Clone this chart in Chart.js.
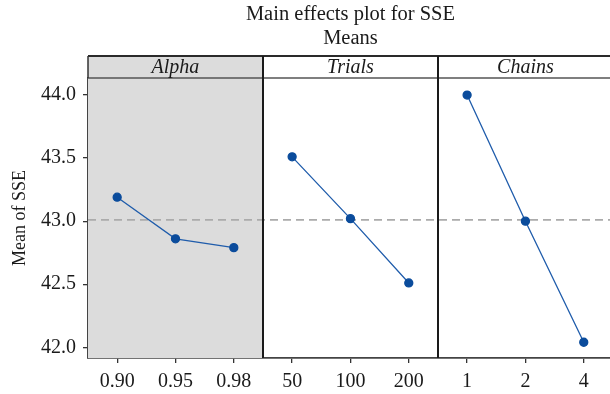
<!DOCTYPE html>
<html>
<head>
<meta charset="utf-8">
<script src="https://cdn.jsdelivr.net/npm/chart.js@4"></script>
<style>
html,body{margin:0;padding:0;overflow:hidden;background:#fff;}
</style>
</head>
<body>
<canvas id="c" width="610" height="394"></canvas>
<script>
const factors = ['Alpha', 'Trials', 'Chains'];
const alphaLevels = ['0.90', '0.95', '0.98'];
const alphaMeans = [43.19, 42.86, 42.79];
const trialsLevels = ['50', '100', '200'];
const trialsMeans = [43.51, 43.02, 42.51];
const chainsLevels = ['1', '2', '4'];
const chainsMeans = [44.00, 43.00, 42.04];
const grandMean = 43.01;
const yTicks = [42.0, 42.5, 43.0, 43.5, 44.0];
const titleLines = ['Main effects plot for SSE', 'Means'];
const yTitle = 'Mean of SSE';

const levelSets = [alphaLevels, trialsLevels, chainsLevels];
const meanSets = [alphaMeans, trialsMeans, chainsMeans];
const xLabels = levelSets.flat();
const xPositions = xLabels.map((_, i) => i + 0.5);

const datasets = meanSets.map((means, p) => ({
  label: factors[p],
  data: means.map((v, i) => ({x: p * 3 + i + 0.5, y: v})),
  borderColor: '#1f5cab',
  borderWidth: 1.3,
  pointBackgroundColor: '#0b4c9c',
  pointBorderColor: '#0b4c9c',
  pointRadius: 4,
  pointHoverRadius: 4,
  showLine: true,
  fill: false,
  tension: 0
}));

const SERIF = '"Liberation Serif", "DejaVu Serif", serif';
const STRIP_TOP = 56;
// the third panel runs slightly past the right edge of the picture
const X_MAX = 8.95;

const decor = {
  id: 'decor',
  beforeDatasetsDraw(chart) {
    const {ctx, chartArea, scales} = chart;
    const x = scales.x, y = scales.y;
    ctx.save();
    const x0 = x.getPixelForValue(0), x3 = x.getPixelForValue(3);
    ctx.fillStyle = '#dcdcdc';
    ctx.fillRect(x0, STRIP_TOP, x3 - x0, chartArea.bottom - STRIP_TOP);
    const yr = y.getPixelForValue(grandMean);
    ctx.strokeStyle = '#ababab';
    ctx.lineWidth = 1.6;
    ctx.setLineDash([8, 5]);
    ctx.beginPath();
    ctx.moveTo(chartArea.left, yr);
    ctx.lineTo(chartArea.right, yr);
    ctx.stroke();
    ctx.setLineDash([]);
    ctx.restore();
  },
  afterDraw(chart) {
    const {ctx, chartArea, scales} = chart;
    const x = scales.x;
    ctx.save();
    ctx.strokeStyle = '#2a2a2a';
    ctx.lineWidth = 1.8;
    ctx.beginPath();
    ctx.moveTo(chartArea.left, STRIP_TOP);
    ctx.lineTo(chartArea.right, STRIP_TOP);
    ctx.stroke();
    ctx.strokeStyle = '#555';
    ctx.lineWidth = 1.5;
    ctx.beginPath();
    ctx.moveTo(chartArea.left, chartArea.top);
    ctx.lineTo(chartArea.right, chartArea.top);
    ctx.stroke();
    ctx.strokeStyle = '#333';
    ctx.lineWidth = 1.5;
    ctx.beginPath();
    ctx.moveTo(chartArea.left, STRIP_TOP);
    ctx.lineTo(chartArea.left, chartArea.top);
    ctx.stroke();
    ctx.strokeStyle = '#1a1a1a';
    ctx.lineWidth = 2;
    [3, 6].forEach(v => {
      const px = Math.round(x.getPixelForValue(v));
      ctx.beginPath();
      ctx.moveTo(px, STRIP_TOP);
      ctx.lineTo(px, chartArea.bottom);
      ctx.stroke();
    });
    ctx.fillStyle = '#1a1a1a';
    ctx.font = 'italic 20px ' + SERIF;
    ctx.textAlign = 'center';
    ctx.textBaseline = 'middle';
    factors.forEach((f, p) => {
      ctx.fillText(f, x.getPixelForValue(p * 3 + 1.5), (STRIP_TOP + chartArea.top) / 2 + 1);
    });
    ctx.font = '20.5px ' + SERIF;
    const cx = x.getPixelForValue(4.5);
    ctx.fillText(titleLines[0], cx, 15);
    ctx.fillText(titleLines[1], cx, 39);
    ctx.restore();
  }
};

new Chart(document.getElementById('c'), {
  type: 'scatter',
  data: {datasets},
  options: {
    responsive: false,
    animation: false,
    events: [],
    layout: {autoPadding: false, padding: {top: 78, right: 0, left: 0, bottom: 0}},
    plugins: {legend: {display: false}, tooltip: {enabled: false}, title: {display: false}},
    scales: {
      x: {
        type: 'linear',
        min: 0, max: X_MAX,
        afterBuildTicks(scale) { scale.ticks = xPositions.map(v => ({value: v})); },
        afterFit(scale) { scale.height = 36; scale.paddingLeft = 0; scale.paddingRight = 0; },
        ticks: {
          autoSkip: false,
          maxRotation: 0,
          padding: 7,
          color: '#1a1a1a',
          font: {family: SERIF, size: 20},
          callback: (v, i) => xLabels[i]
        },
        grid: {drawOnChartArea: false, drawTicks: true, tickLength: 5, color: '#333', lineWidth: 1.3},
        border: {display: true, color: '#444', width: 1.8}
      },
      y: {
        type: 'linear',
        min: 41.915, max: 44.135,
        afterBuildTicks(scale) { scale.ticks = yTicks.map(v => ({value: v})); },
        afterFit(scale) { scale.width = 88; scale.paddingTop = 0; scale.paddingBottom = 0; },
        ticks: {
          padding: 7,
          color: '#1a1a1a',
          font: {family: SERIF, size: 20},
          callback: v => Number(v).toFixed(1)
        },
        grid: {drawOnChartArea: false, drawTicks: true, tickLength: 5, color: '#333', lineWidth: 1.3},
        border: {display: true, color: '#444', width: 1.8},
        title: {
          display: true,
          text: yTitle,
          color: '#1a1a1a',
          font: {family: SERIF, size: 18},
          padding: {top: 9, bottom: 0}
        }
      }
    }
  },
  plugins: [decor]
});
</script>
</body>
</html>
